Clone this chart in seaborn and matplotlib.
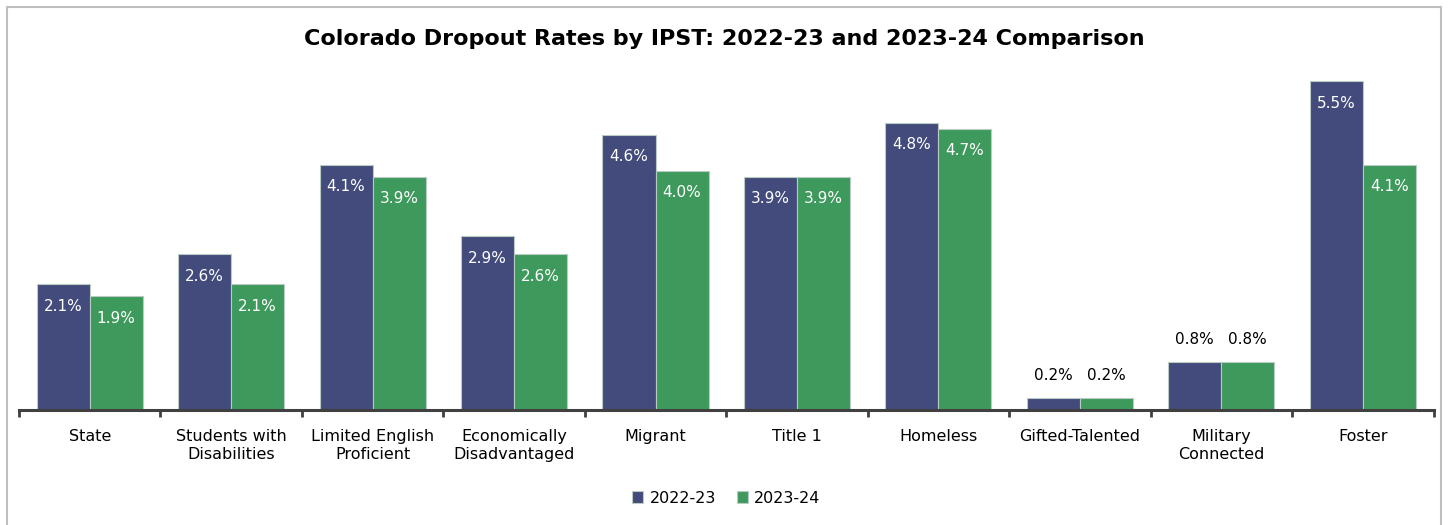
import matplotlib
matplotlib.use("Agg")
import matplotlib.pyplot as plt
import seaborn as sns
import pandas as pd
from matplotlib.patches import Rectangle

categories = ["State", "Students with\nDisabilities", "Limited English\nProficient",
              "Economically\nDisadvantaged", "Migrant", "Title 1", "Homeless",
              "Gifted-Talented", "Military\nConnected", "Foster"]
rates_2022_23 = [2.1, 2.6, 4.1, 2.9, 4.6, 3.9, 4.8, 0.2, 0.8, 5.5]
rates_2023_24 = [1.9, 2.1, 3.9, 2.6, 4.0, 3.9, 4.7, 0.2, 0.8, 4.1]
series = ["2022-23", "2023-24"]
colors = ["#434B7C", "#3E9A5C"]

df = pd.DataFrame({
    "Category": categories * 2,
    "Rate": rates_2022_23 + rates_2023_24,
    "Year": [series[0]] * len(categories) + [series[1]] * len(categories),
})

sns.set_theme(style="white")
plt.rcParams["font.family"] = ["DejaVu Sans"]
plt.rcParams["text.color"] = "black"

fig = plt.figure(figsize=(14.48, 5.25), dpi=100)
ax = fig.add_axes([0.0131, 0.219, 0.9769, 0.684])

sns.barplot(data=df, x="Category", y="Rate", hue="Year", order=categories,
            hue_order=series, palette=colors, saturation=1, width=0.75, gap=0,
            edgecolor="#B8CCC4", linewidth=0.8, ax=ax, legend=True)

ax.set_ylim(0, 6)
ax.set_xlim(-0.5, len(categories) - 0.5)
ax.set_xlabel("")
ax.set_ylabel("")
ax.set_yticks([])
for s in ["top", "right", "left"]:
    ax.spines[s].set_visible(False)
ax.spines["bottom"].set_color("#404040")
ax.spines["bottom"].set_linewidth(2.2)

ax.tick_params(axis="x", which="major", length=0, labelsize=11.5, pad=14,
               labelcolor="black")
ax.set_xticks([i - 0.5 for i in range(len(categories) + 1)], minor=True)
ax.tick_params(axis="x", which="minor", bottom=True, length=5, width=2,
               color="#404040", direction="out")

for container in ax.containers:
    for bar in container:
        h = bar.get_height()
        xc = bar.get_x() + bar.get_width() / 2
        if h >= 1.5:
            ax.annotate(f"{h:.1f}%", (xc, h), xytext=(0, -16), textcoords="offset points",
                        ha="center", va="center", color="white", fontsize=11)
        else:
            ax.annotate(f"{h:.1f}%", (xc, h), xytext=(0, 16), textcoords="offset points",
                        ha="center", va="center", color="black", fontsize=11)

leg = ax.legend(loc="center", bbox_to_anchor=(0.5, -0.245), ncol=2, frameon=False,
                fontsize=11.5, handlelength=0.7, handleheight=0.7, handletextpad=0.4,
                columnspacing=1.3)
for t in leg.get_texts():
    t.set_color("black")

fig.suptitle("Colorado Dropout Rates by IPST: 2022-23 and 2023-24 Comparison",
             x=0.5, y=0.945, fontsize=16, fontweight="bold", family="DejaVu Sans",
             color="black")

fig.patches.append(Rectangle((0.0045, -0.02), 0.991, 1.006, transform=fig.transFigure,
                             fill=False, edgecolor="#BFBFBF", linewidth=1.5))

fig.savefig("out.png", dpi=100)
